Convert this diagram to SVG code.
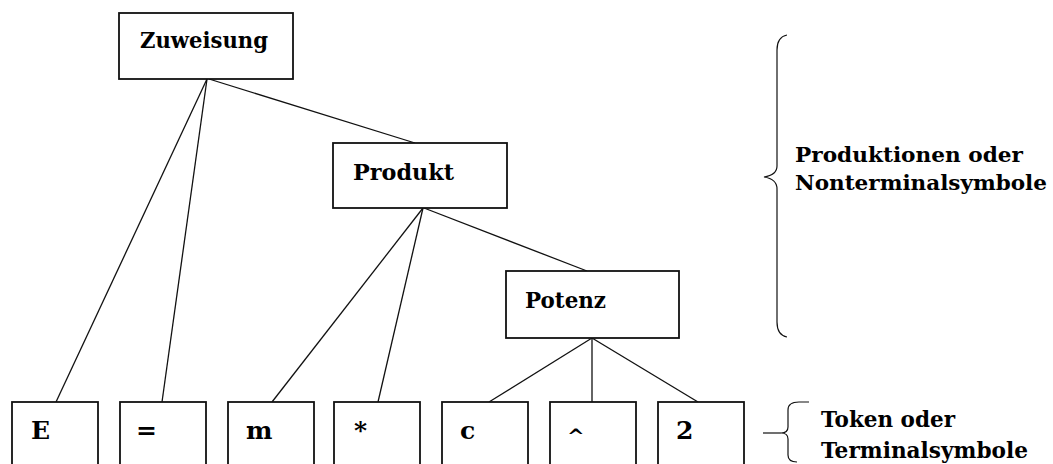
<svg xmlns="http://www.w3.org/2000/svg" width="1053" height="464" viewBox="0 0 1053 464">
  <style>
    .box { fill: #fff; stroke: #111; stroke-width: 1.8; }
    .lbl { font-family: "DejaVu Serif", "Liberation Serif", serif; font-weight: bold; fill: #000; }
    .node { font-size: 23px; }
    .leaf { font-size: 25px; }
    .note { font-size: 20px; }
    .note2 { font-size: 23px; }
    .edge { stroke: #111; stroke-width: 1.3; fill: none; }
    .brace { stroke: #111; stroke-width: 1.2; fill: none; }
  </style>
  <rect width="1053" height="464" fill="#fff"/>

  <!-- parse tree edges -->
  <g id="connectors">
    <line class="edge" x1="207" y1="79" x2="56" y2="402"/>
    <line class="edge" x1="207" y1="79" x2="162" y2="402"/>
    <line class="edge" x1="209" y1="79" x2="415" y2="143"/>
    <line class="edge" x1="423" y1="208" x2="272" y2="402"/>
    <line class="edge" x1="423" y1="208" x2="378" y2="402"/>
    <line class="edge" x1="424" y1="208" x2="587" y2="271"/>
    <line class="edge" x1="592" y1="338" x2="489" y2="402"/>
    <line class="edge" x1="592" y1="338" x2="592" y2="402"/>
    <line class="edge" x1="592" y1="338" x2="698" y2="402"/>
  </g>

  <!-- nonterminal nodes -->
  <g id="zuweisung">
    <rect class="box" x="119" y="13" width="174" height="66"/>
    <text class="lbl node" x="140" y="48" textLength="128" lengthAdjust="spacingAndGlyphs">Zuweisung</text>
  </g>
  <g id="produkt">
    <rect class="box" x="333" y="143" width="174" height="65"/>
    <text class="lbl node" x="353" y="180" textLength="101" lengthAdjust="spacingAndGlyphs">Produkt</text>
  </g>
  <g id="potenz">
    <rect class="box" x="506" y="271" width="173" height="67"/>
    <text class="lbl node" x="525" y="308" textLength="81" lengthAdjust="spacingAndGlyphs">Potenz</text>
  </g>

  <!-- terminal tokens -->
  <g id="tok-E">
    <rect class="box" x="12" y="402" width="86" height="80"/>
    <text class="lbl leaf" x="31" y="439">E</text>
  </g>
  <g id="tok-eq">
    <rect class="box" x="120" y="402" width="86" height="80"/>
    <text class="lbl leaf" x="136" y="439">=</text>
  </g>
  <g id="tok-m">
    <rect class="box" x="228" y="402" width="86" height="80"/>
    <text class="lbl leaf" x="246" y="439">m</text>
  </g>
  <g id="tok-mul">
    <rect class="box" x="334" y="402" width="86" height="80"/>
    <text class="lbl leaf" x="354" y="439">*</text>
  </g>
  <g id="tok-c">
    <rect class="box" x="442" y="402" width="86" height="80"/>
    <text class="lbl leaf" x="460" y="439">c</text>
  </g>
  <g id="tok-pow">
    <rect class="box" x="550" y="402" width="86" height="80"/>
    <text class="lbl leaf" x="567" y="443" style="font-size:21px">^</text>
  </g>
  <g id="tok-2">
    <rect class="box" x="658" y="402" width="86" height="80"/>
    <text class="lbl leaf" x="676" y="439">2</text>
  </g>

  <!-- legend braces -->
  <g id="legend-nonterminal">
    <path class="brace" d="M787,35 Q777,37 777,50 L777,166 Q777,175 764,177 Q777,179 777,189 L777,322 Q777,335 787,337"/>
    <text class="lbl note" x="795" y="162" textLength="228" lengthAdjust="spacingAndGlyphs">Produktionen oder</text>
    <text class="lbl note" x="795" y="190" textLength="252" lengthAdjust="spacingAndGlyphs">Nonterminalsymbole</text>
  </g>
  <g id="legend-terminal">
    <path class="brace" d="M809,402 L799,402 Q788,402 788,410 L788,427 Q788,433 781,433 Q788,433 788,439 L788,455 Q788,462 797,462"/>
    <line class="brace" x1="763" y1="433" x2="781" y2="433"/>
    <text class="lbl note2" x="821" y="427" textLength="134" lengthAdjust="spacingAndGlyphs">Token oder</text>
    <text class="lbl note2" x="821" y="458" textLength="207" lengthAdjust="spacingAndGlyphs">Terminalsymbole</text>
  </g>
</svg>
